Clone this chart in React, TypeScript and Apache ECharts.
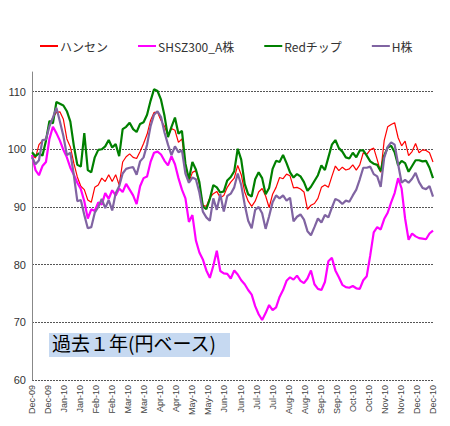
import React, { useEffect, useRef } from "react";
import * as echarts from "echarts";

// Half-monthly date labels along the bottom axis
const tickLabels = [
  "Dec-09", "Dec-09", "Jan-10", "Jan-10", "Feb-10", "Feb-10", "Mar-10", "Mar-10",
  "Apr-10", "Apr-10", "May-10", "May-10", "Jun-10", "Jun-10", "Jul-10", "Jul-10",
  "Aug-10", "Aug-10", "Sep-10", "Sep-10", "Oct-10", "Oct-10", "Nov-10", "Nov-10",
  "Dec-10", "Dec-10",
];

const seriesNames = ["ハンセン", "SHSZ300_A株", "Redチップ", "H株"];

// Index levels (yen basis), one value per observation
const hangSeng = [
  99.0, 98.5, 100.8, 101.5, 101.8, 104.2, 105.5, 106.4, 106.5, 105.2,
  101.8, 100.4, 97.6, 95.2, 93.6, 93.0, 91.2, 90.8, 93.4, 93.8,
  95.0, 94.4, 95.6, 94.4, 95.6, 93.8, 97.8, 98.7, 99.2, 98.6,
  98.4, 99.6, 101.0, 102.6, 105.0, 106.4, 106.4, 105.0, 104.0, 102.4,
  103.6, 103.3, 101.2, 101.8, 97.4, 94.3, 96.0, 96.3, 93.9, 90.3,
  90.1, 91.6, 92.3, 92.7, 91.6, 92.0, 93.4, 94.3, 95.0, 97.2,
  95.6, 92.6, 91.0, 90.1, 91.0, 92.6, 93.2, 91.9, 89.9, 92.2,
  93.4, 95.1, 94.9, 95.7, 95.4, 93.3, 93.4, 93.1, 92.6, 89.6,
  90.3, 90.6, 91.5, 93.4, 93.8, 93.4, 95.3, 97.1, 96.3, 96.9,
  96.4, 96.6, 97.3, 96.4, 97.3, 99.4, 99.1, 99.9, 100.2, 98.2,
  96.0, 101.5, 103.9, 104.3, 104.6, 102.0, 100.6, 101.4, 98.9, 99.6,
  101.0, 99.4, 99.9, 99.8, 99.4, 97.8,
];

const shsz300A = [
  99.0, 96.4, 95.5, 97.1, 97.8, 101.8, 103.9, 102.8, 101.5, 99.9,
  98.6, 96.8, 95.6, 94.2, 93.1, 91.0, 88.0, 89.6, 89.3, 90.8,
  90.4, 92.4, 91.4, 92.9, 92.0, 93.2, 92.6, 94.0, 93.0, 92.0,
  90.5, 93.6, 95.0, 95.3, 97.8, 99.4, 99.6, 99.1, 98.0, 97.2,
  98.8, 97.4, 95.0, 93.0, 91.5, 87.4, 88.6, 84.2, 82.1, 80.9,
  79.0, 77.7, 79.8, 82.4, 78.9, 78.5, 78.4, 77.6, 79.0, 78.3,
  77.3, 76.6, 75.6, 74.8, 72.8, 71.4, 70.4, 71.6, 73.0, 72.1,
  72.6, 74.4, 75.6, 77.2, 77.8, 77.4, 78.1, 77.2, 76.8, 77.6,
  79.0, 76.6, 75.8, 75.6, 77.0, 80.6, 81.2, 79.0, 77.8, 76.5,
  76.1, 76.0, 76.3, 75.9, 75.8, 77.3, 78.0, 81.6, 85.6, 86.5,
  86.1, 87.9, 89.0, 90.8, 92.4, 95.0, 93.2, 88.0, 84.3, 85.4,
  84.9, 84.6, 84.5, 84.4, 85.4, 85.9,
];

const redChip = [
  99.5, 98.8, 99.3, 98.9, 101.5, 104.9, 104.5, 108.2, 107.9, 107.6,
  106.6, 104.8, 100.6, 97.3, 97.0, 102.8, 96.4, 96.0, 98.6, 99.9,
  100.0, 100.5, 101.6, 100.3, 100.9, 98.8, 103.5, 103.9, 104.6, 103.5,
  103.0, 104.4, 104.7, 106.0, 108.4, 110.4, 110.1, 108.6, 105.8, 102.1,
  103.9, 105.5, 102.7, 103.2, 97.5, 94.8, 97.8, 96.5, 94.3, 90.1,
  89.6, 91.4, 93.8, 93.4, 92.5, 92.7, 94.6, 95.2, 96.2, 100.1,
  98.2, 94.0, 92.2, 91.8, 94.8, 96.0, 95.0, 92.2, 93.3, 96.6,
  98.0, 97.8, 99.0, 97.6, 96.0, 95.1, 95.7, 95.3, 94.3, 92.8,
  93.5, 94.5, 95.5, 97.2, 96.4, 98.6, 100.8, 101.6, 100.2, 99.6,
  98.6, 98.4, 99.4, 98.6, 99.8, 99.8, 98.9, 97.9, 97.5, 97.3,
  96.2, 98.9, 100.3, 100.6, 99.5, 97.2, 98.0, 97.6, 96.1, 97.1,
  98.1, 98.1, 97.9, 98.0, 96.8, 95.0,
];

const hShares = [
  98.6, 97.4, 98.1, 101.6, 101.7, 104.0, 105.5, 107.2, 104.8, 102.3,
  99.0, 99.4, 95.5, 91.0, 91.2, 88.6, 86.3, 86.5, 89.0, 90.0,
  91.4, 89.8, 91.2, 89.4, 92.4, 93.6, 95.8, 96.6, 96.8, 96.9,
  95.6, 97.9, 98.6, 100.8, 104.0, 106.0, 106.6, 105.6, 102.9, 100.8,
  99.0, 100.5, 99.5, 99.8, 95.8, 94.2, 95.1, 94.8, 92.5, 89.2,
  88.2, 87.6, 91.5, 89.5, 92.2, 89.2, 91.9, 92.3, 93.4, 95.8,
  93.8, 90.4, 87.6, 86.3, 89.5, 90.0, 88.9, 86.2, 88.4, 90.8,
  92.0, 91.5, 92.0, 91.1, 91.6, 87.5, 88.3, 88.7, 87.8, 85.8,
  85.1, 86.5, 88.0, 87.3, 88.6, 88.2, 89.9, 91.4, 91.1, 90.5,
  91.1, 90.9, 92.0, 93.0, 94.8, 96.8, 96.8, 97.0, 95.7, 95.3,
  93.5, 98.5, 100.4, 101.2, 100.8, 97.4, 94.2, 94.7, 94.2, 94.9,
  95.9, 94.3, 93.3, 93.1, 93.6, 91.8,
];

const seriesValues = [hangSeng, shsz300A, redChip, hShares];
const seriesColors = ["#ff0000", "#ff00ff", "#008000", "#8064a2"];
const seriesWidths = [1.2, 2.2, 2.2, 2.2];

const lastIndex = hangSeng.length - 1;
const labelStep = lastIndex / (tickLabels.length - 1);

export default function App() {
  const ref = useRef<HTMLDivElement>(null);

  useEffect(() => {
    if (!ref.current) return;
    const chart = echarts.init(ref.current, undefined, { renderer: "svg" });
    chart.setOption({
      animation: false,
      backgroundColor: "#ffffff",
      textStyle: { fontFamily: "'Liberation Sans', Arial, sans-serif" },
      legend: {
        left: 35,
        top: 35,
        itemGap: 30,
        itemWidth: 18,
        itemHeight: 2,
        icon: "rect",
        data: seriesNames,
        textStyle: {
          fontSize: 12,
          color: "#333",
          fontFamily: "'Noto Sans CJK JP', sans-serif",
          padding: [0, 0, 0, -3],
        },
      },
      grid: { left: 32, right: 17, top: 72, bottom: 46, containLabel: false },
      xAxis: {
        type: "value",
        min: 0,
        max: lastIndex,
        interval: labelStep,
        axisLine: { show: false },
        axisTick: { show: false },
        splitLine: { show: false },
        axisLabel: {
          rotate: 90,
          fontSize: 9,
          color: "#444",
          margin: 5,
          showMinLabel: true,
          showMaxLabel: true,
          formatter: (v: number) => tickLabels[Math.round(v / labelStep)] ?? "",
        },
      },
      yAxis: {
        type: "value",
        min: 60,
        max: 113.4,
        interval: 10,
        axisLine: { show: true, lineStyle: { color: "#888", width: 1 } },
        axisTick: { show: false },
        axisLabel: {
          fontSize: 11,
          color: "#333",
          margin: 6,
          formatter: (v: number) => (Math.abs(v % 10) < 1e-6 ? String(v) : ""),
        },
        splitLine: {
          show: true,
          showMaxLine: false,
          lineStyle: { color: "#555", width: 1, type: [2, 1] },
        },
      },
      series: seriesNames.map((name, s) => ({
        name,
        type: "line",
        showSymbol: false,
        symbol: "none",
        data: seriesValues[s].map((v, i) => [i, v]),
        lineStyle: { color: seriesColors[s], width: seriesWidths[s] },
        itemStyle: { color: seriesColors[s] },
      })),
      graphic: [
        {
          type: "rect",
          left: 49,
          top: 333,
          shape: { width: 181, height: 24 },
          style: { fill: "#c6d9f1" },
          z: 10,
        },
        {
          type: "text",
          left: 52,
          top: 333,
          style: {
            text: "過去１年(円ベース)",
            fontSize: 19,
            fill: "#000",
            fontFamily: "'Noto Sans CJK JP', sans-serif",
          },
          z: 11,
        },
      ],
    });
    return () => chart.dispose();
  }, []);

  return (
    <div
      ref={ref}
      style={{ position: "fixed", left: 0, top: 0, width: 450, height: 426, background: "#fff" }}
    />
  );
}
